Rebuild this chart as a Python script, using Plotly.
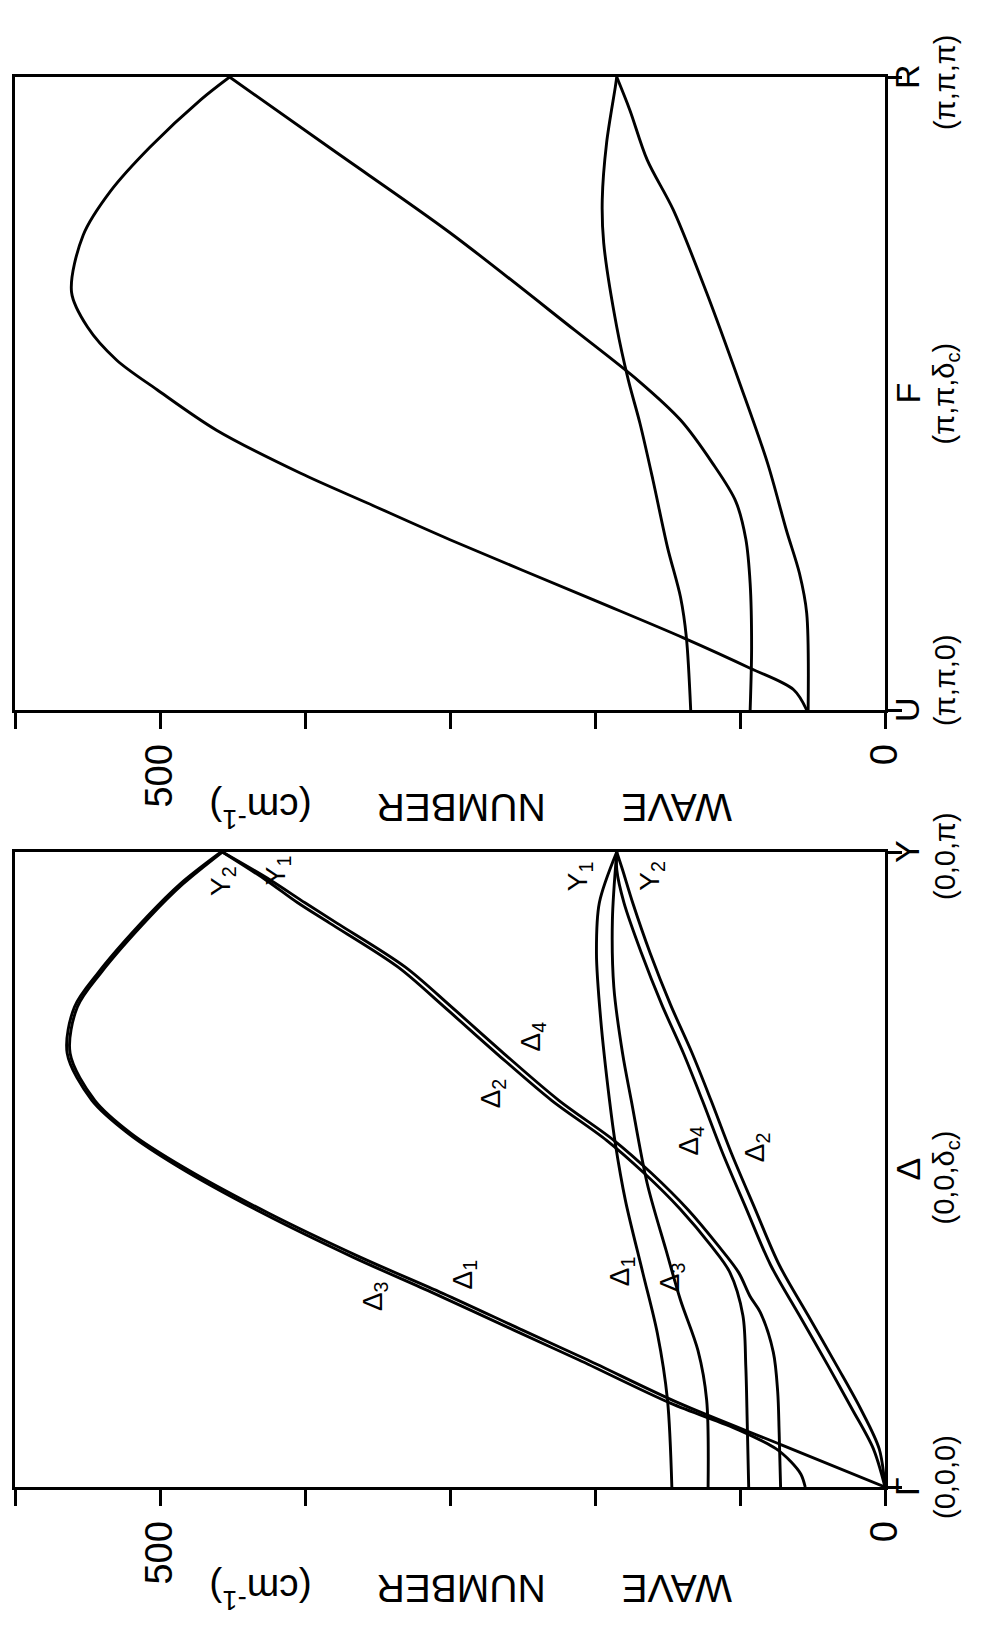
import plotly.graph_objects as go

# ---------------- Γ (0,0,0) → Y (0,0,π) : lower panel ----------------
# reduced wave vector along the line (0 = Γ, 1 = Y) and wave numbers in cm^-1
k_acoustic_hi = [0, 0.066, 0.132, 0.20, 0.247, 0.305, 0.362, 0.431, 0.504, 0.557,
                 0.609, 0.683, 0.756, 0.809, 0.898, 0.95, 1.0]
w_acoustic_hi = [0, 71, 142, 205, 250, 305, 362, 425, 484, 520,
                 545, 562, 557, 541, 507, 484, 457]

k_optic_55 = [0, 0.02, 0.04, 0.06, 0.09, 0.132, 0.20, 0.247, 0.305, 0.362, 0.431,
              0.504, 0.557, 0.609, 0.683, 0.756, 0.809, 0.898, 0.95, 1.0]
w_optic_55 = [55, 58, 65, 75, 101, 148, 211, 256, 311, 367, 429,
              487, 522, 547, 564, 559, 543, 509, 486, 458]

k_delta_a = [0, 0.10, 0.19, 0.27, 0.338, 0.38, 0.437, 0.494, 0.546, 0.609,
             0.683, 0.756, 0.819, 0.888, 0.92, 0.956, 1.0]
w_delta_a = [94, 95, 96, 98, 107, 120, 141, 166, 192, 230,
             268, 304, 336, 383, 405, 427, 457]

k_delta_b = [0, 0.086, 0.15, 0.212, 0.275, 0.30, 0.338, 0.38, 0.437, 0.494, 0.546,
             0.609, 0.683, 0.756, 0.819, 0.888, 0.92, 0.956, 1.0]
w_delta_b = [72, 73, 74, 77, 86, 93, 101, 115, 136, 161, 187,
             225, 263, 299, 331, 378, 400, 424, 457]

k_delta1_opt = [0, 0.137, 0.242, 0.337, 0.451, 0.541, 0.609, 0.735, 0.841, 0.92, 1.0]
w_delta1_opt = [147, 150, 157, 167, 179, 186, 190, 196, 199, 197, 185]

k_delta3_opt = [0, 0.137, 0.215, 0.294, 0.373, 0.478, 0.609, 0.683, 0.787, 0.893, 1.0]
w_delta3_opt = [122, 123, 129, 141, 151, 164, 175, 181, 187, 188, 185]

k_transverse = [0, 0.06, 0.124, 0.19, 0.27, 0.35, 0.44, 0.526, 0.609, 0.683,
                0.76, 0.841, 0.92, 0.972, 1.0]
w_transverse_4 = [0, 8, 23, 39, 59, 79, 96, 112, 126, 139, 154, 168, 180, 185, 185]
w_transverse_2 = [0, 4, 17, 33, 53, 73, 90, 106, 120, 133, 148, 162, 174, 181, 185]

# ---------------- U (π,π,0) → R (π,π,π) : upper panel ----------------
k_u_arch = [0, 0.032, 0.066, 0.114, 0.174, 0.269, 0.327, 0.374, 0.442, 0.506,
            0.553, 0.605, 0.66, 0.75, 0.82, 0.889, 0.964, 1.0]
w_u_arch = [54, 63, 93, 139, 201, 300, 357, 403, 461, 502,
            530, 550, 561, 553, 534, 507, 472, 452]

k_u_line = [0, 0.10, 0.20, 0.27, 0.33, 0.39, 0.458, 0.52, 0.60, 0.754, 0.885, 1.0]
w_u_line = [93, 92, 93, 96, 103, 119, 141, 170, 214, 300, 381, 452]

k_u_bow = [0, 0.115, 0.178, 0.257, 0.363, 0.453, 0.521, 0.605, 0.738, 0.806, 0.896, 0.984, 1.0]
w_u_bow = [134, 137, 141, 150, 160, 169, 177, 185, 194, 195, 192, 186, 185]

k_u_low = [0, 0.153, 0.216, 0.284, 0.39, 0.515, 0.659, 0.79, 0.869, 0.948, 1.0]
w_u_low = [53, 54, 59, 68, 81, 100, 123, 146, 164, 176, 185]

# axis text
wn_ticks = [0, 100, 200, 300, 400, 500, 600]
wn_ticktext = ["0", "", "", "", "", "500", ""]
# (k, point letter, coordinates, vertical nudge of the coordinates in px)
lower_points = [(0, "Γ", "(0,0,0)", 10), (0.5, "Δ", "(0,0,δ<sub>c</sub>)", -8),
                (1, "Y", "(0,0,π)", -4)]
upper_points = [(0, "U", "(π,π,0)", 30), (0.5, "F", "(π,π,δ<sub>c</sub>)", 0),
                (1, "R", "(π,π,π)", -6)]
axis_title = ("WAVE" + "&nbsp;" * 7 + "NUMBER" + "&nbsp;" * 6 + "(cm<sup>-1</sup>)")

# branch labels on the lower panel: (wave number, k, text)
lower_labels = [
    (352, 0.30, "Δ<sub>3</sub>"), (290, 0.334, "Δ<sub>1</sub>"),
    (182, 0.34, "Δ<sub>1</sub>"), (147, 0.33, "Δ<sub>3</sub>"),
    (271, 0.62, "Δ<sub>2</sub>"), (243, 0.709, "Δ<sub>4</sub>"),
    (134, 0.545, "Δ<sub>4</sub>"), (89, 0.535, "Δ<sub>2</sub>"),
    (457, 0.955, "Y<sub>2</sub>"), (419, 0.972, "Y<sub>1</sub>"),
    (211, 0.962, "Y<sub>1</sub>"), (161, 0.962, "Y<sub>2</sub>"),
]

# ---------------- page geometry (pixels) ----------------
W, H = 996, 1634
X_LEFT, X_RIGHT = 15, 885          # 600 cm^-1 ... 0 cm^-1
LOW_TOP, LOW_BOT = 852, 1487
UP_TOP, UP_BOT = 77, 710
LETTER_X, COORD_X = 907, 945
FONT = "Liberation Sans"

def ydom(top, bot):
    return [(H - bot) / H, (H - top) / H]

fig = go.Figure()

lower_branches = [
    (k_acoustic_hi, w_acoustic_hi), (k_optic_55, w_optic_55),
    (k_delta_a, w_delta_a), (k_delta_b, w_delta_b),
    (k_delta1_opt, w_delta1_opt), (k_delta3_opt, w_delta3_opt),
    (k_transverse, w_transverse_4), (k_transverse, w_transverse_2),
]
upper_branches = [
    (k_u_arch, w_u_arch), (k_u_line, w_u_line),
    (k_u_bow, w_u_bow), (k_u_low, w_u_low),
]

line_style = dict(color="black", width=2.9, shape="spline", smoothing=0.9)
for k, w in lower_branches:
    fig.add_trace(go.Scatter(x=w, y=k, mode="lines", line=line_style,
                             xaxis="x", yaxis="y", hoverinfo="skip", showlegend=False))
for k, w in upper_branches:
    fig.add_trace(go.Scatter(x=w, y=k, mode="lines", line=line_style,
                             xaxis="x2", yaxis="y2", hoverinfo="skip", showlegend=False))

xdom = [X_LEFT / W, X_RIGHT / W]
xaxis_common = dict(
    domain=xdom, range=[600, 0], tickvals=wn_ticks, ticktext=wn_ticktext,
    tickangle=-90, ticks="outside", ticklen=16, tickwidth=3, tickcolor="black",
    showline=True, linewidth=3, linecolor="black", mirror=True,
    showgrid=False, zeroline=False, fixedrange=True, automargin=False,
    tickfont=dict(family=FONT, size=38, color="black"),
)
yaxis_common = dict(
    range=[0, 1], side="right", tickvals=[0, 1], ticks="outside", ticklen=14,
    tickwidth=3, tickcolor="black", showticklabels=False,
    showline=True, linewidth=3, linecolor="black", mirror=True,
    showgrid=False, zeroline=False, fixedrange=True, automargin=False,
)

annotations = []
# Brillouin-zone point labels, drawn vertically to the right of each panel
for pts, yref in ((lower_points, "y"), (upper_points, "y2")):
    for k, letter, coord, nudge in pts:
        annotations.append(dict(
            x=LETTER_X / W, xref="paper", y=k, yref=yref, xanchor="center",
            yanchor="middle", text=letter, textangle=-90, showarrow=False,
            font=dict(family=FONT, size=34, color="black"),
        ))
        annotations.append(dict(
            x=COORD_X / W, xref="paper", y=k, yref=yref, xanchor="center",
            yanchor="middle", yshift=nudge, text=coord, textangle=-90,
            showarrow=False, font=dict(family=FONT, size=29, color="black"),
        ))
# wave-number axis titles (upside down)
for ypix in (811, 1592):
    annotations.append(dict(
        x=471 / W, xref="paper", y=(H - ypix) / H, yref="paper",
        xanchor="center", yanchor="middle", text=axis_title, textangle=180,
        showarrow=False, font=dict(family=FONT, size=39, color="black"),
    ))
# branch symmetry labels
for w, k, txt in lower_labels:
    annotations.append(dict(
        x=w, y=k, xref="x", yref="y", text=txt, textangle=-90, showarrow=False,
        xanchor="center", yanchor="middle",
        font=dict(family=FONT, size=28, color="black"),
    ))

fig.update_layout(
    width=W, height=H, margin=dict(l=0, r=0, t=0, b=0, autoexpand=False),
    paper_bgcolor="white", plot_bgcolor="white",
    xaxis=dict(anchor="y", **xaxis_common),
    yaxis=dict(anchor="x", domain=ydom(LOW_TOP, LOW_BOT), **yaxis_common),
    xaxis2=dict(anchor="y2", **xaxis_common),
    yaxis2=dict(anchor="x2", domain=ydom(UP_TOP, UP_BOT), **yaxis_common),
    annotations=annotations,
    showlegend=False,
)

fig.write_html("out.html")
